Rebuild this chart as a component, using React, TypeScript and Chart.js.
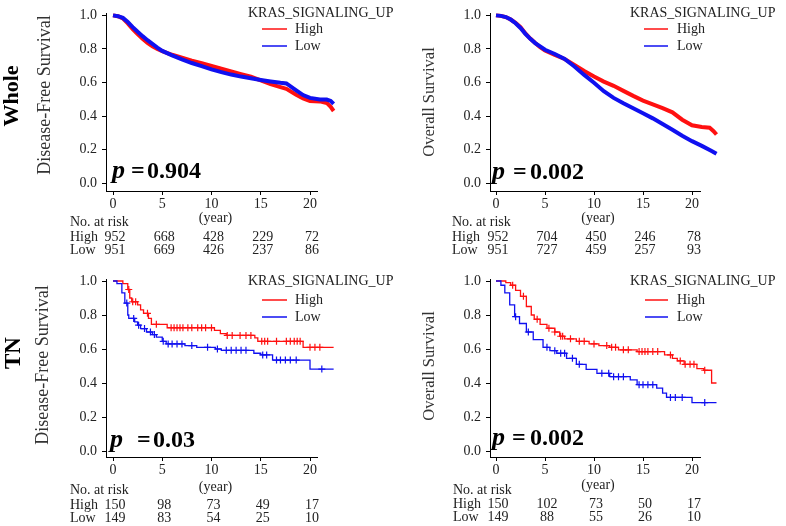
import React, { useEffect, useRef } from "react";
import { Chart, registerables } from "chart.js";
Chart.register(...registerables);

// ---------- axes ----------
const xTicks = [0, 5, 10, 15, 20];
const yTicks = [0, 0.2, 0.4, 0.6, 0.8, 1.0];
const riskTimes = [0, 5, 10, 15, 20];

// ---------- Whole, disease-free survival ----------
const wholeDfsHighT = [0, 0.5, 1, 1.5, 2, 2.5, 3, 3.5, 4, 4.5, 5, 6, 7, 8, 9, 10, 11, 12, 13, 14, 15, 16, 17, 17.6, 18.6, 19.3, 20, 21, 21.7, 22.1, 22.4];
const wholeDfsHighS = [1, 0.995, 0.982, 0.952, 0.918, 0.888, 0.86, 0.836, 0.816, 0.8, 0.787, 0.765, 0.748, 0.73, 0.715, 0.698, 0.682, 0.666, 0.65, 0.634, 0.612, 0.59, 0.572, 0.562, 0.527, 0.505, 0.49, 0.487, 0.478, 0.455, 0.43];
const wholeDfsLowT = [0, 0.5, 1, 1.5, 2, 2.5, 3, 3.5, 4, 4.5, 5, 6, 7, 8, 9, 10, 11, 12, 13, 14, 15, 16, 17, 17.6, 18.6, 19.3, 20, 21, 21.7, 22.1, 22.4];
const wholeDfsLowS = [1, 0.995, 0.985, 0.96, 0.93, 0.902, 0.876, 0.852, 0.83, 0.808, 0.788, 0.762, 0.738, 0.716, 0.697, 0.678, 0.662, 0.647, 0.635, 0.625, 0.615, 0.606, 0.598, 0.594, 0.553, 0.525, 0.508, 0.498, 0.498, 0.49, 0.472];

// ---------- Whole, overall survival ----------
const wholeOsHighT = [0, 0.5, 1, 1.5, 2, 2.5, 3, 3.5, 4, 4.5, 5, 6, 7, 8, 9, 10, 11, 12, 13, 14, 15, 16, 17, 18, 19, 20, 21, 21.8, 22.2, 22.5];
const wholeOsHighS = [1, 0.997, 0.99, 0.975, 0.955, 0.93, 0.892, 0.862, 0.835, 0.81, 0.79, 0.765, 0.74, 0.705, 0.668, 0.635, 0.605, 0.58, 0.55, 0.52, 0.492, 0.47, 0.447, 0.422, 0.378, 0.345, 0.335, 0.33, 0.31, 0.29];
const wholeOsLowT = [0, 0.5, 1, 1.5, 2, 2.5, 3, 3.5, 4, 4.5, 5, 6, 7, 8, 9, 10, 11, 12, 13, 14, 15, 16, 17, 18, 19, 20, 21, 22, 22.5];
const wholeOsLowS = [1, 0.997, 0.99, 0.975, 0.953, 0.925, 0.89, 0.86, 0.835, 0.815, 0.795, 0.77, 0.74, 0.695, 0.645, 0.598, 0.548, 0.508, 0.476, 0.446, 0.416, 0.386, 0.352, 0.318, 0.282, 0.25, 0.222, 0.192, 0.175];

// ---------- TN, disease-free survival ----------
const tnDfsHighT = [0, 1.0, 1.5, 1.7, 1.9, 2.5, 2.8, 3.1, 3.6, 3.9, 5.5, 10.3, 10.9, 11.5, 14.4, 14.7, 19.3, 22.4];
const tnDfsHighS = [1, 0.985, 0.95, 0.9, 0.878, 0.86, 0.83, 0.81, 0.78, 0.745, 0.725, 0.71, 0.69, 0.68, 0.665, 0.645, 0.61, 0.61];
const tnDfsLowT = [0, 0.4, 0.9, 1.2, 1.5, 1.6, 2.2, 2.5, 2.8, 3.4, 4.0, 4.4, 5.0, 5.4, 7.3, 8.5, 10.4, 11.0, 14.3, 15.0, 16.2, 20.0, 22.4];
const tnDfsLowS = [1, 0.985, 0.93, 0.87, 0.8, 0.78, 0.76, 0.74, 0.72, 0.7, 0.685, 0.67, 0.645, 0.63, 0.62, 0.61, 0.6, 0.592, 0.575, 0.565, 0.535, 0.482, 0.482];
const tnDfsHighCens = [1.6, 2.0, 2.3, 3.5, 4.4, 5.9, 6.2, 6.5, 6.8, 7.1, 7.6, 8.0, 8.6, 9.0, 9.4, 10.0, 11.6, 12.1, 12.9, 13.5, 14.0, 15.1, 15.4, 15.7, 16.6, 17.6, 18.0, 18.4, 18.7, 19.0, 20.0, 20.5, 21.0, 21.5, 22.0];
const tnDfsLowCens = [1.4, 2.1, 2.6, 3.2, 3.8, 4.2, 5.1, 5.6, 6.0, 6.5, 7.0, 8.0, 9.6, 10.6, 11.5, 12.0, 12.5, 13.0, 13.5, 15.2, 15.6, 16.6, 17.0, 17.5, 18.0, 18.6, 21.2, 21.8];

// ---------- TN, overall survival ----------
const tnOsHighT = [0, 1.0, 1.5, 2.0, 2.5, 3.1, 3.6, 3.9, 4.5, 5.2, 6.0, 6.5, 7.0, 8.2, 9.5, 10.5, 11.6, 12.5, 14.4, 17.2, 18.0, 18.5, 19.2, 20.5, 21.2, 22.0, 22.5];
const tnOsHighS = [1, 0.99, 0.975, 0.945, 0.91, 0.85, 0.8, 0.775, 0.745, 0.722, 0.7, 0.675, 0.66, 0.645, 0.63, 0.62, 0.61, 0.595, 0.585, 0.565, 0.545, 0.53, 0.51, 0.485, 0.475, 0.4, 0.4];
const tnOsLowT = [0, 0.5, 0.9, 1.4, 1.9, 2.4, 3.1, 3.8, 4.8, 5.5, 6.2, 7.2, 8.2, 9.2, 10.3, 11.6, 13.7, 14.4, 16.4, 17.0, 17.4, 20.0, 22.5];
const tnOsLowS = [1, 0.975, 0.93, 0.86, 0.79, 0.75, 0.7, 0.655, 0.61, 0.59, 0.575, 0.545, 0.51, 0.48, 0.457, 0.437, 0.418, 0.39, 0.37, 0.34, 0.315, 0.285, 0.285];
const tnOsHighCens = [1.7, 2.8, 4.2, 5.4, 6.0, 6.6, 6.8, 7.6, 8.5, 9.0, 10.0, 11.3, 11.8, 12.2, 13.0, 13.5, 14.6, 14.9, 15.2, 15.5, 16.0, 16.5, 17.8, 18.8, 19.3, 19.8, 20.2, 21.3, 21.6, 22.3];
const tnOsLowCens = [2.0, 3.3, 5.2, 6.0, 6.6, 7.0, 7.8, 8.5, 10.8, 11.5, 12.0, 12.5, 13.0, 14.6, 15.0, 15.5, 16.0, 17.8, 18.3, 19.0, 21.3, 21.8];

// ---------- numbers at risk ----------
const riskWholeDfsHigh = [952, 668, 428, 229, 72];
const riskWholeDfsLow = [951, 669, 426, 237, 86];
const riskWholeOsHigh = [952, 704, 450, 246, 78];
const riskWholeOsLow = [951, 727, 459, 257, 93];
const riskTnDfsHigh = [150, 98, 73, 49, 17];
const riskTnDfsLow = [149, 83, 54, 25, 10];
const riskTnOsHigh = [150, 102, 73, 50, 17];
const riskTnOsLow = [149, 88, 55, 26, 10];

const pWholeDfs = "0.904";
const pWholeOs = "0.002";
const pTnDfs = "0.03";
const pTnOs = "0.002";

const legendTitle = "KRAS_SIGNALING_UP";
const groupNames = ["High", "Low"];

// ---------- styling ----------
const RED = "#ff1010";
const BLUE = "#1010f0";
const SERIF = "'Liberation Serif', 'Times New Roman', serif";
const TEXT = "#222";
const W = 786;
const H = 526;

function survAt(T: number[], S: number[], t: number) {
  let v = S[0];
  for (let i = 0; i < T.length; i++) if (T[i] <= t) v = S[i];
  return v;
}
function pts(T: number[], S: number[]) {
  return T.map((t, i) => ({ x: t, y: S[i] }));
}

const panels = [
  {
    area: { l: 106, r: 317, t: 11, b: 191 }, zeroX: 113, twentyX: 310, oneY: 13, zeroY: 183,
    highT: wholeDfsHighT, highS: wholeDfsHighS, lowT: wholeDfsLowT, lowS: wholeDfsLowS,
    highCens: null as number[] | null, lowCens: null as number[] | null, dense: true,
    riskHigh: riskWholeDfsHigh, riskLow: riskWholeDfsLow,
    yTitle: "Disease-Free Survival", yTitleX: 45, yTitleY: 95, yTitleSize: 18,
    rowLabel: "Whole", rowX: 12, rowY: 96, rowSize: 22,
    p: pWholeDfs, pX: 112, eqX: 131, numX: 147, pBase: 178,
    leg: { titleX: 248, titleY: 13, x1: 262, x2: 287, textX: 295, hy: 29, ly: 46 },
    risk: { labelX: 70, headY: 222, hy: 237, ly: 250, yearY: 218 },
  },
  {
    area: { l: 490, r: 700, t: 11, b: 191 }, zeroX: 496, twentyX: 692, oneY: 13, zeroY: 183,
    highT: wholeOsHighT, highS: wholeOsHighS, lowT: wholeOsLowT, lowS: wholeOsLowS,
    highCens: null, lowCens: null, dense: true,
    riskHigh: riskWholeOsHigh, riskLow: riskWholeOsLow,
    yTitle: "Overall Survival", yTitleX: 430, yTitleY: 102, yTitleSize: 16.5,
    rowLabel: "", rowX: 0, rowY: 0, rowSize: 22,
    p: pWholeOs, pX: 492, eqX: 513, numX: 530, pBase: 179,
    leg: { titleX: 630, titleY: 13, x1: 644, x2: 668, textX: 677, hy: 29, ly: 46 },
    risk: { labelX: 452, headY: 222, hy: 237, ly: 250, yearY: 218 },
  },
  {
    area: { l: 106, r: 317, t: 279, b: 457 }, zeroX: 113, twentyX: 310, oneY: 281, zeroY: 451,
    highT: tnDfsHighT, highS: tnDfsHighS, lowT: tnDfsLowT, lowS: tnDfsLowS,
    highCens: tnDfsHighCens, lowCens: tnDfsLowCens, dense: false,
    riskHigh: riskTnDfsHigh, riskLow: riskTnDfsLow,
    yTitle: "Disease-Free Survival", yTitleX: 43, yTitleY: 365, yTitleSize: 18,
    rowLabel: "TN", rowX: 14, rowY: 353, rowSize: 23,
    p: pTnDfs, pX: 110, eqX: 137, numX: 153, pBase: 447,
    leg: { titleX: 248, titleY: 281, x1: 262, x2: 287, textX: 295, hy: 300, ly: 317 },
    risk: { labelX: 70, headY: 490, hy: 505, ly: 518, yearY: 487 },
  },
  {
    area: { l: 490, r: 700, t: 279, b: 457 }, zeroX: 496, twentyX: 692, oneY: 281, zeroY: 451,
    highT: tnOsHighT, highS: tnOsHighS, lowT: tnOsLowT, lowS: tnOsLowS,
    highCens: tnOsHighCens, lowCens: tnOsLowCens, dense: false,
    riskHigh: riskTnOsHigh, riskLow: riskTnOsLow,
    yTitle: "Overall Survival", yTitleX: 430, yTitleY: 366, yTitleSize: 16.5,
    rowLabel: "", rowX: 0, rowY: 0, rowSize: 22,
    p: pTnOs, pX: 492, eqX: 512, numX: 530, pBase: 445,
    leg: { titleX: 630, titleY: 281, x1: 645, x2: 668, textX: 677, hy: 300, ly: 317 },
    risk: { labelX: 453, headY: 490, hy: 504, ly: 517, yearY: 485 },
  },
];

type Panel = (typeof panels)[number];

function makeChart(canvas: HTMLCanvasElement, p: Panel) {
  const yW = 40;
  const xH = 30;
  const pxPerX = (p.twentyX - p.zeroX) / 20;
  const pxPerY = p.zeroY - p.oneY;
  const xMin = (p.area.l - p.zeroX) / pxPerX;
  const xMax = (p.area.r - p.zeroX) / pxPerX;
  const yMin = (p.zeroY - p.area.b) / pxPerY;
  const yMax = (p.zeroY - p.area.t) / pxPerY;

  const lineW = p.dense ? 4 : 1.3;
  const datasets: any[] = [
    {
      label: groupNames[1], data: pts(p.lowT, p.lowS), borderColor: BLUE, backgroundColor: BLUE,
      borderWidth: lineW, pointRadius: 0, stepped: p.dense ? false : "before", tension: 0, clip: false, fill: false,
    },
    {
      label: groupNames[0], data: pts(p.highT, p.highS), borderColor: RED, backgroundColor: RED,
      borderWidth: lineW, pointRadius: 0, stepped: p.dense ? false : "before", tension: 0, clip: false, fill: false,
    },
  ];
  if (p.lowCens) {
    datasets.push({
      type: "scatter", label: "Low censored",
      data: p.lowCens.map((t) => ({ x: t, y: survAt(p.lowT, p.lowS, t) })),
      borderColor: BLUE, backgroundColor: BLUE, pointStyle: "cross", pointRadius: 3.5, borderWidth: 1.2, clip: false,
    });
  }
  if (p.highCens) {
    datasets.push({
      type: "scatter", label: "High censored",
      data: p.highCens.map((t) => ({ x: t, y: survAt(p.highT, p.highS, t) })),
      borderColor: RED, backgroundColor: RED, pointStyle: "cross", pointRadius: 3.5, borderWidth: 1.2, clip: false,
    });
  }

  const textPlugin = {
    id: "kmText",
    afterDraw(chart: any) {
      const ctx = chart.ctx as CanvasRenderingContext2D;
      const xs = chart.scales.x;
      ctx.save();
      // y-axis title
      ctx.save();
      ctx.translate(p.yTitleX, p.yTitleY);
      ctx.rotate(-Math.PI / 2);
      ctx.font = `${p.yTitleSize}px ${SERIF}`;
      ctx.fillStyle = "#333";
      ctx.textAlign = "center";
      ctx.textBaseline = "middle";
      ctx.fillText(p.yTitle, 0, 0);
      ctx.restore();
      // row label
      if (p.rowLabel) {
        ctx.save();
        ctx.translate(p.rowX, p.rowY);
        ctx.rotate(-Math.PI / 2);
        ctx.font = `bold ${p.rowSize}px ${SERIF}`;
        ctx.fillStyle = "#000";
        ctx.textAlign = "center";
        ctx.textBaseline = "middle";
        ctx.fillText(p.rowLabel, 0, 0);
        ctx.restore();
      }
      // p value
      ctx.fillStyle = "#000";
      ctx.textAlign = "left";
      ctx.textBaseline = "alphabetic";
      ctx.font = `italic bold 26px ${SERIF}`;
      ctx.fillText("p", p.pX, p.pBase);
      ctx.font = `bold 24px ${SERIF}`;
      ctx.fillText("=", p.eqX, p.pBase);
      ctx.fillText(p.p, p.numX, p.pBase);
      // legend
      ctx.font = `14px ${SERIF}`;
      ctx.fillStyle = TEXT;
      ctx.textBaseline = "middle";
      ctx.fillText(legendTitle, p.leg.titleX, p.leg.titleY);
      ctx.fillText(groupNames[0], p.leg.textX, p.leg.hy);
      ctx.fillText(groupNames[1], p.leg.textX, p.leg.ly);
      ctx.lineWidth = 1.5;
      ctx.strokeStyle = RED;
      ctx.beginPath();
      ctx.moveTo(p.leg.x1, p.leg.hy);
      ctx.lineTo(p.leg.x2, p.leg.hy);
      ctx.stroke();
      ctx.strokeStyle = BLUE;
      ctx.beginPath();
      ctx.moveTo(p.leg.x1, p.leg.ly);
      ctx.lineTo(p.leg.x2, p.leg.ly);
      ctx.stroke();
      // x-axis unit
      ctx.textAlign = "center";
      ctx.fillStyle = TEXT;
      ctx.fillText("(year)", xs.getPixelForValue(10) + 4, p.risk.yearY);
      // risk table
      ctx.textAlign = "left";
      ctx.fillText("No. at risk", p.risk.labelX, p.risk.headY);
      ctx.fillText(groupNames[0], p.risk.labelX, p.risk.hy);
      ctx.fillText(groupNames[1], p.risk.labelX, p.risk.ly);
      ctx.textAlign = "center";
      riskTimes.forEach((t, i) => {
        const x = xs.getPixelForValue(t) + 2;
        ctx.fillText(String(p.riskHigh[i]), x, p.risk.hy);
        ctx.fillText(String(p.riskLow[i]), x, p.risk.ly);
      });
      ctx.restore();
    },
  };

  return new Chart(canvas, {
    type: "line",
    data: { datasets },
    plugins: [textPlugin],
    options: {
      animation: false,
      responsive: false,
      events: [],
      layout: {
        padding: { left: p.area.l - yW, right: W - p.area.r, top: p.area.t, bottom: H - p.area.b - xH },
      },
      plugins: { legend: { display: false }, title: { display: false }, tooltip: { enabled: false } },
      scales: {
        x: {
          type: "linear", bounds: "data",
          afterDataLimits: (s: any) => { s.min = xMin; s.max = xMax; },
          afterBuildTicks: (s: any) => { s.ticks = xTicks.map((v) => ({ value: v })); },
          afterFit: (s: any) => { s.height = xH; },
          ticks: { autoSkip: false, maxRotation: 0, padding: 1, color: TEXT, font: { family: SERIF, size: 14 }, callback: (v: any) => String(v) },
          grid: { drawOnChartArea: false, drawTicks: true, tickLength: 4, color: "#000" },
          border: { display: true, color: "#000", width: 1 },
        },
        y: {
          type: "linear", bounds: "data",
          afterDataLimits: (s: any) => { s.min = yMin; s.max = yMax; },
          afterBuildTicks: (s: any) => { s.ticks = yTicks.map((v) => ({ value: v })); },
          afterFit: (s: any) => { s.width = yW; },
          ticks: { autoSkip: false, padding: 5, color: TEXT, font: { family: SERIF, size: 14 }, callback: (v: any) => Number(v).toFixed(1) },
          grid: { drawOnChartArea: false, drawTicks: true, tickLength: 4, color: "#000" },
          border: { display: true, color: "#000", width: 1 },
        },
      },
    } as any,
  });
}

export default function App() {
  const refs = useRef<(HTMLCanvasElement | null)[]>([]);
  useEffect(() => {
    const charts = panels.map((p, i) => makeChart(refs.current[i] as HTMLCanvasElement, p));
    return () => charts.forEach((c) => c.destroy());
  }, []);
  return (
    <div style={{ position: "absolute", left: 0, top: 0, width: W, height: H, background: "#fff", overflow: "hidden" }}>
      {panels.map((_, i) => (
        <canvas
          key={i}
          ref={(el) => { refs.current[i] = el; }}
          width={W}
          height={H}
          style={{ position: "absolute", left: 0, top: 0, width: W, height: H }}
        />
      ))}
    </div>
  );
}
